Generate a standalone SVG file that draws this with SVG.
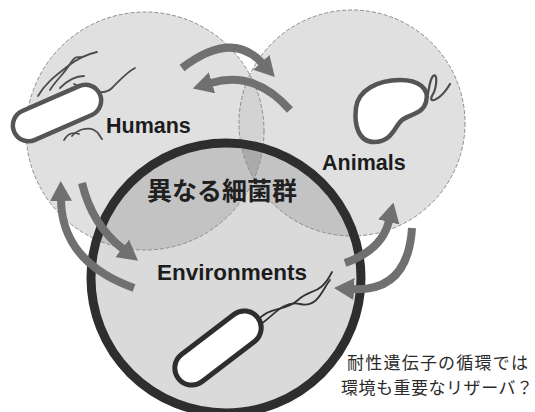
<svg xmlns="http://www.w3.org/2000/svg" width="535" height="412" viewBox="0 0 535 412">
  <style>
    .label { font-family: "Liberation Sans", Arial, sans-serif; font-weight: bold; fill: #1c1c1c; }
    .jp { font-family: "Noto Sans CJK JP", "Noto Sans CJK SC", sans-serif; }
    .rim { fill: none; stroke: #8c8c8c; stroke-width: 1; stroke-dasharray: 4 2; }
    .cell { fill: #ffffff; stroke: #555555; stroke-width: 4.5; }
    .flag { fill: none; stroke: #4c4c4c; stroke-width: 1.8; stroke-linecap: round; }
    .flow { fill: none; stroke: #707070; stroke-width: 8; marker-end: url(#head); }
  </style>
  <defs>
    <clipPath id="clipH"><circle cx="145" cy="131" r="119"/></clipPath>
    <clipPath id="clipE"><circle cx="226" cy="278" r="135"/></clipPath>
    <marker id="head" viewBox="0 0 20 22" markerUnits="userSpaceOnUse" markerWidth="20" markerHeight="22" refX="1" refY="11" orient="auto">
      <path d="M0,0 L20,11 L0,22 Z" fill="#707070"/>
    </marker>
  </defs>

  <rect width="535" height="412" fill="#ffffff"/>

  <!-- shaded regions of the three overlapping sets -->
  <g id="regions">
    <circle cx="145" cy="131" r="119" fill="#e0e0e0"/>
    <circle cx="352" cy="123" r="113" fill="#e0e0e0"/>
    <circle cx="352" cy="123" r="113" fill="#d3d3d3" clip-path="url(#clipH)"/>
    <circle cx="226" cy="278" r="135" fill="#dadada"/>
    <g clip-path="url(#clipE)">
      <circle cx="145" cy="131" r="119" fill="#c3c3c3"/>
      <circle cx="352" cy="123" r="113" fill="#c3c3c3"/>
      <circle cx="352" cy="123" r="113" fill="#ababab" clip-path="url(#clipH)"/>
    </g>
  </g>

  <g id="humans">
    <circle class="rim" cx="145" cy="131" r="119"/>
    <g class="flag">
      <path d="M38,96 C46,82 58,74 68,66 S88,54 97,52"/>
      <path d="M50,90 C56,80 64,74 70,64 S78,58 81,57"/>
      <path d="M60,88 C66,82 74,76 84,76"/>
      <path d="M74,84 C90,92 104,96 112,88 S127,72 135,68"/>
      <path d="M72,136 C78,129 88,127 94,130 S99,136 102,139"/>
      <path d="M64,140 C68,133 74,132 79,134"/>
    </g>
    <rect class="cell" x="-46.75" y="-15.75" width="93.5" height="31.5" rx="15.75" transform="translate(57,113) rotate(-23.7)"/>
    <text class="label" x="106" y="133" font-size="21.5">Humans</text>
  </g>

  <g id="animals">
    <circle class="rim" cx="352" cy="123" r="113"/>
    <path class="flag" style="stroke-width:2.2" d="M424,104 C430,95 428,82 433,76 C438,72 437,88 432,96 C428,104 440,101 450,84"/>
    <path class="cell" d="M356,108 C358,90 378,80 400,80 C418,80 430,88 426,102 C423,114 410,114 402,120 C394,127 392,142 374,142 C358,142 354,124 356,108 Z"/>
    <text class="label" x="322" y="170" font-size="21.5">Animals</text>
  </g>

  <g id="environments">
    <circle cx="226" cy="278" r="135" fill="none" stroke="#2e2e2e" stroke-width="9"/>
    <g class="flag" style="stroke:#333333">
      <path d="M256,322 C270,305 285,312 298,300 S320,296 332,272"/>
      <path d="M258,326 C272,318 282,300 300,304 S322,290 330,280"/>
    </g>
    <rect class="cell" style="stroke:#2e2e2e;stroke-width:5" x="-50" y="-17" width="100" height="34" rx="17" transform="translate(218,348) rotate(-37.5)"/>
    <text class="label" x="157" y="280" font-size="22.5">Environments</text>
  </g>

  <!-- transfer arrows between the reservoirs -->
  <g id="connectors">
    <path class="flow" d="M182,68 Q232,30 262,63"/>
    <path class="flow" d="M290,110 Q255,70 211,83"/>
    <path class="flow" d="M134,288 Q62,262 61,200"/>
    <path class="flow" d="M82,183 Q92,225 123,249"/>
    <path class="flow" d="M345,263 Q382,250 389,221"/>
    <path class="flow" d="M412,228 Q408,292 353,289"/>
  </g>

  <text class="jp" x="147" y="200" font-size="25" font-weight="bold" fill="#202020">異なる細菌群</text>
  <g class="jp" font-size="17" fill="#2a2a2a">
    <text x="347" y="369" textLength="181" lengthAdjust="spacing">耐性遺伝子の循環では</text>
    <text x="341" y="394" textLength="192" lengthAdjust="spacing">環境も重要なリザーバ？</text>
  </g>
</svg>
